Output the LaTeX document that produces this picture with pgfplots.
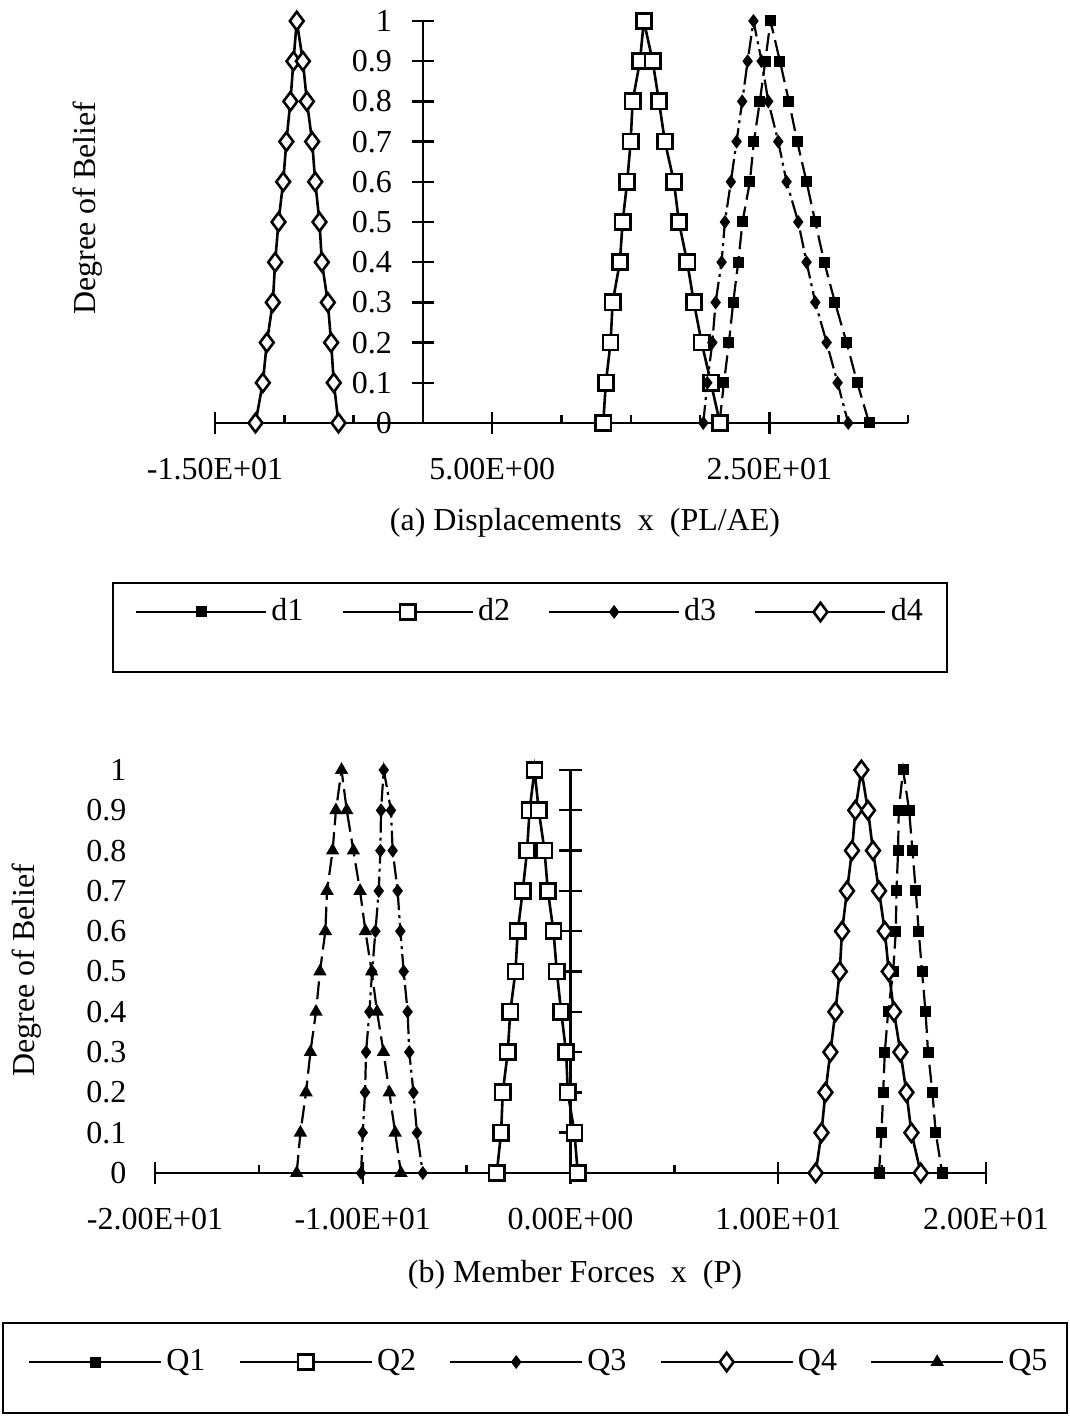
\documentclass[border=0pt]{standalone}
\usepackage{fontspec}
\setmainfont{Liberation Serif}
\usepackage{pgfplots}
\pgfplotsset{compat=1.18}
\begin{document}
\fontsize{16bp}{19bp}\selectfont
\begin{tikzpicture}[font=\fontsize{16bp}{19bp}\selectfont]
\useasboundingbox (0,0) rectangle (535bp,708bp);
\pgfplotsset{
  basestyle/.style={scale only axis, clip=false, ymin=0, ymax=1,
    axis line style={-, line width=1.2bp},
    every inner x axis line/.append style={-},
    every inner y axis line/.append style={-},
    tick style={black, line width=1.2bp},
    tick align=center, major tick length=11bp, minor tick length=4bp,
    minor tick style={yshift=2bp},
    hide obscured x ticks=false, hide obscured y ticks=false,
    ytick={0,0.1,0.2,0.3,0.4,0.5,0.6,0.7,0.8,0.9,1},
    yticklabels={0,0.1,0.2,0.3,0.4,0.5,0.6,0.7,0.8,0.9,1},
    xticklabel style={anchor=north, yshift=-6.5bp},
    legend cell align=left,
    legend image post style={solid},
  },
  s1/.style={black, line width=1.1bp, dash pattern=on 9bp off 3.5bp, mark=square*, mark size=2.2bp, mark options={solid, fill=black}},
  s2/.style={black, line width=1.3bp, mark=square*, mark size=3.8bp, mark options={solid, fill=white}},
  s3/.style={black, line width=1.1bp, dash pattern=on 9bp off 2.5bp on 1.5bp off 2.5bp, mark=diamond*, mark size=2.6bp, mark options={solid, fill=black}},
  s4/.style={black, line width=1.3bp, mark=diamond*, mark size=4.6bp, mark options={solid, fill=white}},
  s5/.style={black, line width=1.1bp, dash pattern=on 9bp off 3.5bp, mark=triangle*, mark size=2.8bp, mark options={solid, fill=black}},
}
% ---------------- (a) ----------------
\begin{axis}[basestyle, at={(107.5bp,496.5bp)}, anchor=south west,
  width=346.5bp, height=201bp, xmin=-15, xmax=35,
  axis x line*=middle, axis y line*=middle,
  xtick={-15,5,25}, xticklabels={-1.50E+01,5.00E+00,2.50E+01},
  minor xtick={-10,-5,0,10,15,20,30,35},
  yticklabel style={anchor=east, xshift=-4.5bp},
  legend columns=4,
  legend style={draw=none, fill=none, at={(0.456,-0.470)}, anchor=center,
    /tikz/every even column/.append style={column sep=17bp}},
  legend image code/.code={\draw[mark repeat=2,mark phase=2] plot coordinates {(0bp,0bp) (32.5bp,0bp) (65bp,0bp)};},
]
\addplot[s1] coordinates {(21.40,0) (21.72,0.1) (22.08,0.2) (22.39,0.3) (22.75,0.4) (23.06,0.5) (23.59,0.6) (23.88,0.7) (24.31,0.8) (24.70,0.9) (25.08,1) (25.76,0.9) (26.41,0.8) (27.01,0.7) (27.68,0.6) (28.31,0.5) (28.96,0.4) (29.73,0.3) (30.57,0.2) (31.34,0.1) (32.20,0)};
\addlegendentry{d1}
\addplot[s2] coordinates {(13.01,0) (13.20,0.1) (13.54,0.2) (13.69,0.3) (14.21,0.4) (14.41,0.5) (14.74,0.6) (14.99,0.7) (15.13,0.8) (15.66,0.9) (15.94,1) (16.58,0.9) (17.03,0.8) (17.46,0.7) (18.11,0.6) (18.47,0.5) (19.07,0.4) (19.55,0.3) (20.11,0.2) (20.78,0.1) (21.43,0)};
\addlegendentry{d2}
\addplot[s3] coordinates {(20.23,0) (20.52,0.1) (20.88,0.2) (21.12,0.3) (21.55,0.4) (21.79,0.5) (22.22,0.6) (22.63,0.7) (23.04,0.8) (23.43,0.9) (23.85,1) (24.44,0.9) (24.92,0.8) (25.64,0.7) (26.24,0.6) (27.08,0.5) (27.68,0.4) (28.31,0.3) (29.13,0.2) (29.92,0.1) (30.69,0)};
\addlegendentry{d3}
\addplot[s4] coordinates {(-12.08,0) (-11.55,0.1) (-11.26,0.2) (-10.83,0.3) (-10.66,0.4) (-10.42,0.5) (-10.08,0.6) (-9.85,0.7) (-9.56,0.8) (-9.34,0.9) (-9.10,1) (-8.66,0.9) (-8.37,0.8) (-7.99,0.7) (-7.77,0.6) (-7.46,0.5) (-7.29,0.4) (-6.86,0.3) (-6.62,0.2) (-6.43,0.1) (-6.09,0)};
\addlegendentry{d4}
\end{axis}
% ---------------- (b) ----------------
\begin{axis}[basestyle, at={(77.5bp,121.5bp)}, anchor=south west,
  width=415.5bp, height=201.5bp, xmin=-20, xmax=20,
  axis x line*=middle, axis y line*=middle,
  xtick={-20,-10,0,10,20}, xticklabels={-2.00E+01,-1.00E+01,0.00E+00,1.00E+01,2.00E+01},
  minor xtick={-15,-5,5,15},
  yticklabel style={anchor=east, xshift=-211bp},
  legend columns=5,
  legend style={draw=none, fill=none, at={(0.463,-0.469)}, anchor=center,
    /tikz/every even column/.append style={column sep=14.5bp}},
  legend image code/.code={\draw[mark repeat=2,mark phase=2] plot coordinates {(0bp,0bp) (33bp,0bp) (66bp,0bp)};},
]
\addplot[s1] coordinates {(14.85,0) (14.97,0.1) (15.05,0.2) (15.13,0.3) (15.29,0.4) (15.53,0.5) (15.66,0.6) (15.69,0.7) (15.77,0.8) (15.80,0.9) (16.01,1) (16.30,0.9) (16.46,0.8) (16.62,0.7) (16.76,0.6) (16.92,0.5) (17.09,0.4) (17.21,0.3) (17.42,0.2) (17.58,0.1) (17.89,0)};
\addlegendentry{Q1}
\addplot[s2] coordinates {(-3.55,0) (-3.34,0.1) (-3.26,0.2) (-3.02,0.3) (-2.90,0.4) (-2.65,0.5) (-2.54,0.6) (-2.30,0.7) (-2.09,0.8) (-1.97,0.9) (-1.73,1) (-1.53,0.9) (-1.25,0.8) (-1.09,0.7) (-0.82,0.6) (-0.66,0.5) (-0.45,0.4) (-0.21,0.3) (-0.13,0.2) (0.19,0.1) (0.35,0)};
\addlegendentry{Q2}
\addplot[s3] coordinates {(-10.08,0) (-10.00,0.1) (-9.89,0.2) (-9.84,0.3) (-9.68,0.4) (-9.55,0.5) (-9.39,0.6) (-9.23,0.7) (-9.15,0.8) (-9.12,0.9) (-8.99,1) (-8.64,0.9) (-8.56,0.8) (-8.32,0.7) (-8.19,0.6) (-8.03,0.5) (-7.84,0.4) (-7.76,0.3) (-7.56,0.2) (-7.39,0.1) (-7.11,0)};
\addlegendentry{Q3}
\addplot[s4] coordinates {(11.80,0) (12.08,0.1) (12.27,0.2) (12.51,0.3) (12.75,0.4) (12.96,0.5) (13.07,0.6) (13.31,0.7) (13.55,0.8) (13.71,0.9) (14.00,1) (14.32,0.9) (14.56,0.8) (14.85,0.7) (15.13,0.6) (15.32,0.5) (15.57,0.4) (15.88,0.3) (16.17,0.2) (16.41,0.1) (16.86,0)};
\addlegendentry{Q4}
\addplot[s5] coordinates {(-13.18,0) (-13.00,0.1) (-12.73,0.2) (-12.52,0.3) (-12.25,0.4) (-12.06,0.5) (-11.80,0.6) (-11.72,0.7) (-11.45,0.8) (-11.29,0.9) (-11.02,1) (-10.77,0.9) (-10.45,0.8) (-10.13,0.7) (-9.87,0.6) (-9.57,0.5) (-9.31,0.4) (-9.00,0.3) (-8.72,0.2) (-8.44,0.1) (-8.16,0)};
\addlegendentry{Q5}
\end{axis}
% titles, axis titles and legend frames
\node at (292.5bp,446.5bp) {(a) Displacements\ \ x\ \ (PL/AE)};
\node at (287.5bp,70.5bp) {(b) Member Forces\ \ x\ \ (P)};
\node[rotate=90] at (44bp,604bp) {Degree of Belief};
\node[rotate=90] at (13.5bp,223bp) {Degree of Belief};
\draw[line width=1.2bp] (56.5bp,372bp) rectangle (473.5bp,416.5bp);
\draw[line width=1.2bp] (1.5bp,1.5bp) rectangle (533.5bp,46.5bp);
\end{tikzpicture}
\end{document}
